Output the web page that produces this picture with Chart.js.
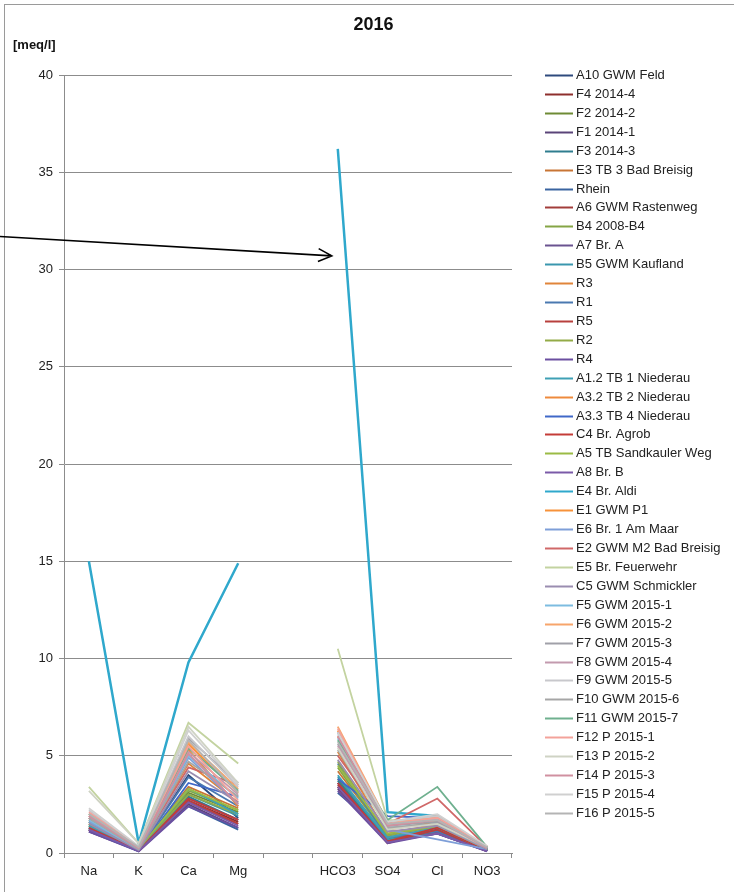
<!DOCTYPE html>
<html>
<head>
<meta charset="utf-8">
<script src="https://cdn.jsdelivr.net/npm/chart.js@4/dist/chart.umd.min.js"></script>
<style>
  body { margin: 0; background: #fff; }
  #wrap { width: 734px; height: 892px; position: relative; }
</style>
</head>
<body>
<div id="wrap"><canvas id="my-chart"></canvas></div>
<script>
"use strict";

// x categories (empty slot splits cations from anions)
const ions = ["Na", "K", "Ca", "Mg", "", "HCO3", "SO4", "Cl", "NO3"];

const stations = [
  "A10 GWM Feld", "F4 2014-4", "F2 2014-2", "F1 2014-1", "F3 2014-3",
  "E3 TB 3 Bad Breisig", "Rhein", "A6 GWM Rastenweg", "B4 2008-B4", "A7 Br. A",
  "B5 GWM Kaufland", "R3", "R1", "R5", "R2",
  "R4", "A1.2 TB 1 Niederau", "A3.2 TB 2 Niederau", "A3.3 TB 4 Niederau", "C4 Br. Agrob",
  "A5 TB Sandkauler Weg", "A8 Br. B", "E4 Br. Aldi", "E1 GWM P1", "E6 Br. 1 Am Maar",
  "E2 GWM M2 Bad Breisig", "E5 Br. Feuerwehr", "C5 GWM Schmickler", "F5 GWM 2015-1", "F6 GWM 2015-2",
  "F7 GWM 2015-3", "F8 GWM 2015-4", "F9 GWM 2015-5", "F10 GWM 2015-6", "F11 GWM 2015-7",
  "F12 P 2015-1", "F13 P 2015-2", "F14 P 2015-3", "F15 P 2015-4", "F16 P 2015-5",
];

const colors = [
  "#2e4a7d", "#8e2f2d", "#6e8b35", "#5a4479", "#2f7d8f",
  "#c87535", "#3a64a0", "#a23d3a", "#85a545", "#6a5390",
  "#3a97ae", "#e0853a", "#4a79b0", "#b8403d", "#93ab47",
  "#6b4fa0", "#3fa0b5", "#ee8a3c", "#4068c8", "#c43c38",
  "#9bbb45", "#7b5aa8", "#2fa8cc", "#f7923a", "#7e9fd8",
  "#d06868", "#c3d3a0", "#9a8db0", "#7dbce0", "#f7a56b",
  "#a0a0a8", "#c39aae", "#c8c8cc", "#a6a6a6", "#6fb08f",
  "#f3a29a", "#cfd3c4", "#d090a0", "#d0d0d0", "#b4b4b4",
];

// values in meq/l, one entry per station (same order as stations)
const na = [
  1.3, 1.2, 1.4, 1.1, 1.3, 1.5, 1.6, 1.2, 1.4, 1.2,
  1.3, 1.7, 1.3, 1.2, 1.5, 1.1, 1.4, 1.8, 1.2, 1.3,
  1.6, 1.2, 15.0, 1.9, 1.6, 1.8, 3.4, 1.5, 1.7, 2.0,
  1.8, 1.9, 2.2, 1.8, 2.0, 2.1, 3.2, 1.9, 2.3, 2.0,
];
const k = [
  0.15, 0.10, 0.15, 0.10, 0.12, 0.20, 0.20, 0.10, 0.15, 0.10,
  0.12, 0.20, 0.15, 0.10, 0.20, 0.08, 0.15, 0.20, 0.10, 0.12,
  0.20, 0.10, 0.50, 0.25, 0.20, 0.25, 0.50, 0.15, 0.20, 0.30,
  0.25, 0.25, 0.30, 0.20, 0.30, 0.30, 0.50, 0.25, 0.35, 0.30,
];
const ca = [
  4.0, 2.7, 3.1, 2.5, 2.9, 3.4, 2.4, 2.6, 3.2, 2.8,
  3.0, 4.6, 3.9, 2.7, 3.0, 2.4, 3.3, 5.3, 3.6, 2.8,
  3.3, 2.6, 9.8, 5.6, 4.9, 4.4, 6.7, 4.2, 5.0, 5.7,
  5.9, 5.2, 6.0, 4.7, 5.4, 5.5, 6.5, 5.1, 6.3, 5.8,
];
const mg = [
  1.8, 1.6, 2.1, 1.3, 1.7, 2.3, 1.2, 1.5, 2.2, 1.7,
  1.9, 2.6, 2.4, 1.5, 2.0, 1.3, 2.0, 2.4, 2.9, 1.7,
  2.2, 1.4, 14.9, 3.1, 2.5, 3.5, 4.6, 2.6, 2.8, 3.3,
  3.6, 3.0, 3.4, 2.9, 3.2, 2.7, 3.6, 2.5, 3.5, 3.1,
];
const hco3 = [
  3.6, 3.4, 3.8, 3.3, 3.7, 4.2, 3.1, 3.5, 4.4, 3.6,
  3.9, 5.2, 4.6, 3.4, 4.7, 3.2, 4.0, 6.0, 3.8, 3.6,
  4.5, 3.4, 36.2, 6.3, 6.2, 5.0, 10.5, 4.8, 5.9, 6.5,
  5.6, 5.5, 6.1, 5.3, 5.8, 6.4, 5.4, 6.0, 6.2, 5.7,
];
const so4 = [
  0.60, 0.50, 0.70, 0.60, 0.65, 0.90, 0.90, 0.55, 0.80, 0.60,
  0.70, 1.00, 0.80, 0.55, 0.90, 0.50, 0.80, 1.20, 1.90, 0.60,
  1.00, 0.55, 2.10, 1.40, 1.20, 1.50, 1.70, 1.10, 1.30, 1.60,
  1.40, 1.50, 1.60, 1.30, 1.70, 1.50, 1.20, 1.40, 1.60, 1.50,
];
const cl = [
  1.0, 1.2, 1.3, 1.1, 1.2, 1.4, 1.5, 1.1, 1.3, 1.2,
  1.0, 1.5, 1.1, 1.2, 1.4, 1.0, 1.3, 1.6, 1.8, 1.3,
  1.4, 1.0, 1.9, 1.9, 0.7, 2.8, 1.6, 1.4, 1.5, 1.8,
  1.6, 1.7, 1.9, 1.5, 3.4, 1.8, 1.5, 1.7, 2.0, 1.7,
];
const no3 = [
  0.10, 0.15, 0.20, 0.10, 0.15, 0.20, 0.25, 0.10, 0.15, 0.10,
  0.12, 0.20, 0.15, 0.10, 0.20, 0.08, 0.15, 0.30, 0.10, 0.15,
  0.20, 0.10, 0.20, 0.30, 0.20, 0.30, 0.35, 0.20, 0.25, 0.30,
  0.25, 0.30, 0.30, 0.25, 0.30, 0.35, 0.30, 0.25, 0.35, 0.30,
];

const yTicks = [0, 5, 10, 15, 20, 25, 30, 35, 40];

// build one line per station, null in the gap column
const datasets = stations.map(function (name, i) {
  return {
    label: name,
    data: [na[i], k[i], ca[i], mg[i], null, hco3[i], so4[i], cl[i], no3[i]],
    borderColor: colors[i],
    backgroundColor: colors[i],
    borderWidth: i === 22 ? 2.5 : 1.8,
    pointRadius: 0,
    tension: 0,
    spanGaps: false,
    order: stations.length - i, // later series on top, like the original
  };
});

// frame, legend column and the arrow pointing at the HCO3 outlier
const extras = {
  id: "extras",
  afterDraw(chart) {
    const ctx = chart.ctx;
    const area = chart.chartArea;
    const x = chart.scales.x;
    const y = chart.scales.y;
    ctx.save();
    ctx.strokeStyle = "#9a9a9a";
    ctx.lineWidth = 1;
    ctx.strokeRect(4.5, 4.5, chart.width + 10, chart.height + 10);

    // legend: one row per dataset, first row level with the top gridline
    const lx = area.right + 33;
    const step = 18.92;
    ctx.font = "13px 'Liberation Sans', Arial, sans-serif";
    ctx.textBaseline = "middle";
    ctx.textAlign = "left";
    chart.data.datasets.forEach(function (ds, i) {
      const ly = Math.round(area.top + i * step) + 0.5;
      ctx.strokeStyle = ds.borderColor;
      ctx.lineWidth = 2;
      ctx.beginPath();
      ctx.moveTo(lx, ly);
      ctx.lineTo(lx + 28, ly);
      ctx.stroke();
      ctx.fillStyle = "#222";
      ctx.fillText(ds.label, lx + 31, ly);
    });

    const tipX = x.getPixelForValue(5) - 6;
    const tipY = y.getPixelForValue(30.7);
    const tailY = y.getPixelForValue(31.7);
    const ang = Math.atan2(tipY - tailY, tipX);
    ctx.strokeStyle = "#000";
    ctx.lineWidth = 1.6;
    ctx.beginPath();
    ctx.moveTo(0, tailY);
    ctx.lineTo(tipX, tipY);
    ctx.moveTo(tipX - 15 * Math.cos(ang - 0.45), tipY - 15 * Math.sin(ang - 0.45));
    ctx.lineTo(tipX, tipY);
    ctx.lineTo(tipX - 15 * Math.cos(ang + 0.45), tipY - 15 * Math.sin(ang + 0.45));
    ctx.stroke();
    ctx.restore();
  },
};

Chart.defaults.font.family = "'Liberation Sans', Arial, sans-serif";
Chart.defaults.color = "#222";

const ctx = document.getElementById("my-chart");
const myChart = new Chart(ctx, {
  type: "line",
  data: { labels: ions, datasets: datasets },
  plugins: [extras],
  options: {
    responsive: true,
    maintainAspectRatio: false,
    animation: false,
    layout: { padding: { left: 13, right: 0, top: 0, bottom: 0 } },
    plugins: {
      tooltip: { enabled: false },
      legend: { display: false },
      title: {
        display: true,
        text: "2016",
        font: { size: 18, weight: "bold" },
        color: "#111",
        padding: { top: 14.2, bottom: 1.4 },
      },
      subtitle: {
        display: true,
        text: "[meq/l]",
        align: "start",
        font: { size: 13, weight: "bold" },
        color: "#111",
        padding: { top: 0, bottom: 22.2 },
      },
    },
    scales: {
      x: {
        offset: true,
        grid: { display: true, offset: true, drawOnChartArea: false, tickLength: 5, color: "#8c8c8c" },
        border: { color: "#8c8c8c" },
        ticks: { font: { size: 13 }, color: "#222", padding: 5.5, autoSkip: false, maxRotation: 0 },
        afterFit(scale) { scale.height = 39; },
      },
      y: {
        min: 0,
        max: 40,
        afterBuildTicks(scale) { scale.ticks = yTicks.map(v => ({ value: v })); },
        grid: { color: "#8c8c8c", tickLength: 5 },
        border: { color: "#8c8c8c" },
        ticks: { font: { size: 13 }, color: "#222", padding: 6 },
        afterFit(scale) { scale.width = 51; },
      },
      // empty right-hand box that keeps room for the legend column
      y2: {
        position: "right",
        display: true,
        grid: { display: false },
        border: { display: false },
        ticks: { display: false },
        afterFit(scale) { scale.width = 222; },
      },
    },
  },
});
</script>
</body>
</html>
